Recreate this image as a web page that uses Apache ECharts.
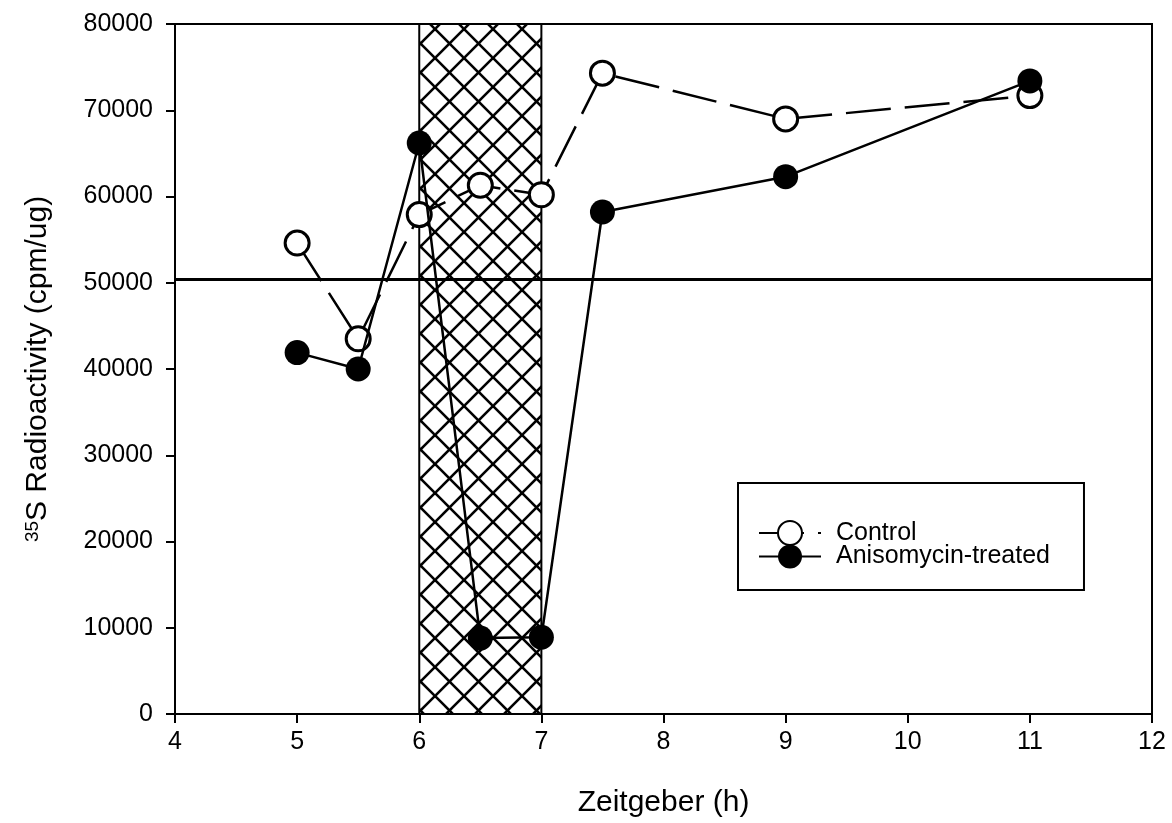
<!DOCTYPE html>
<html>
<head>
<meta charset="utf-8">
<script src="https://cdn.jsdelivr.net/npm/echarts@6/dist/echarts.min.js"></script>
<style>
html,body{margin:0;padding:0;background:#fff;}
#chart{width:1172px;height:823px;}
</style>
</head>
<body>
<div id="chart"></div>
<script>
// ---- data ----
const hours = [5, 5.5, 6, 6.5, 7, 7.5, 9, 11];
const controlValues = [54600, 43500, 57900, 61300, 60200, 74300, 69000, 71700];
const anisomycinValues = [41900, 40000, 66200, 8800, 8900, 58200, 62300, 73400];
const seriesNames = ['Control', 'Anisomycin-treated'];
const referenceLevel = 50400;
const treatmentWindow = [6, 7];

// ---- hatch pattern ----
function makeHatch(s) {
  const c = document.createElement('canvas');
  c.width = s; c.height = s;
  const ctx = c.getContext('2d');
  ctx.fillStyle = '#fff';
  ctx.fillRect(0, 0, s, s);
  ctx.strokeStyle = '#000';
  ctx.lineWidth = 2.6;
  for (const k of [-s, 0, s]) {
    ctx.beginPath(); ctx.moveTo(k, 0); ctx.lineTo(k + s, s); ctx.stroke();
    ctx.beginPath(); ctx.moveTo(k + s, 0); ctx.lineTo(k, s); ctx.stroke();
  }
  return c;
}
const hatch = makeHatch(29);

const pair = (xs, ys) => xs.map((x, i) => [x, ys[i]]);
const font = 'Liberation Sans, Arial, Helvetica, sans-serif';

const chart = echarts.init(document.getElementById('chart'), null, {renderer: 'canvas'});
chart.setOption({
  animation: false,
  backgroundColor: '#fff',
  textStyle: {fontFamily: font, color: '#000'},
  grid: {left: 175, right: 20, top: 24, bottom: 109, show: true, borderColor: '#000', borderWidth: 2, backgroundColor: 'transparent'},
  xAxis: {
    type: 'value', min: 4, max: 12, interval: 1,
    name: 'Zeitgeber (h)', nameLocation: 'middle', nameGap: 74,
    nameTextStyle: {fontSize: 30, color: '#000', fontFamily: font},
    axisLine: {show: true, lineStyle: {color: '#000', width: 2}},
    axisTick: {show: true, inside: false, length: 9, lineStyle: {color: '#000', width: 2}},
    axisLabel: {fontSize: 25, color: '#000', margin: 16, fontFamily: font},
    splitLine: {show: false}
  },
  yAxis: {
    type: 'value', min: 0, max: 80000, interval: 10000,
    name: '{sup|35}S Radioactivity (cpm/ug)', nameLocation: 'middle', nameGap: 122, nameRotate: 90,
    nameTextStyle: {
      fontSize: 30, color: '#000', fontFamily: font,
      rich: {
        sup: {fontSize: 19, verticalAlign: 'top', color: '#000', fontFamily: font, lineHeight: 30}
      }
    },
    axisLine: {show: true, lineStyle: {color: '#000', width: 2}},
    axisTick: {show: true, inside: false, length: 9, lineStyle: {color: '#000', width: 2}},
    axisLabel: {fontSize: 25, color: '#000', margin: 22, fontFamily: font, formatter: v => String(v)},
    splitLine: {show: false}
  },
  legend: {
    orient: 'vertical', left: 738, top: 483,
    padding: [37, 34, 21, 20],
    itemGap: -2, itemWidth: 62, itemHeight: 30,
    borderColor: '#000', borderWidth: 2, backgroundColor: '#fff',
    textStyle: {fontSize: 25, color: '#000', fontFamily: font, padding: [0, 0, 0, 10]},
    data: seriesNames
  },
  series: [
    {
      name: seriesNames[0], type: 'line',
      data: pair(hours, controlValues),
      symbol: 'circle', symbolSize: 24,
      itemStyle: {color: '#fff', borderColor: '#000', borderWidth: 3},
      lineStyle: {color: '#000', width: 2.5, type: [45, 14]},
      z: 3,
      markArea: {
        silent: true,
        itemStyle: {color: {image: hatch, repeat: 'repeat'}, borderColor: '#000', borderWidth: 2},
        data: [[{xAxis: treatmentWindow[0]}, {xAxis: treatmentWindow[1]}]]
      },
      markLine: {
        silent: true, symbol: 'none', label: {show: false},
        lineStyle: {color: '#000', width: 3, type: 'solid'},
        data: [{yAxis: referenceLevel}]
      }
    },
    {
      name: seriesNames[1], type: 'line',
      data: pair(hours, anisomycinValues),
      symbol: 'circle', symbolSize: 25,
      itemStyle: {color: '#000', borderColor: '#000', borderWidth: 0},
      lineStyle: {color: '#000', width: 2.5, type: 'solid'},
      z: 4
    }
  ]
});
</script>
</body>
</html>
